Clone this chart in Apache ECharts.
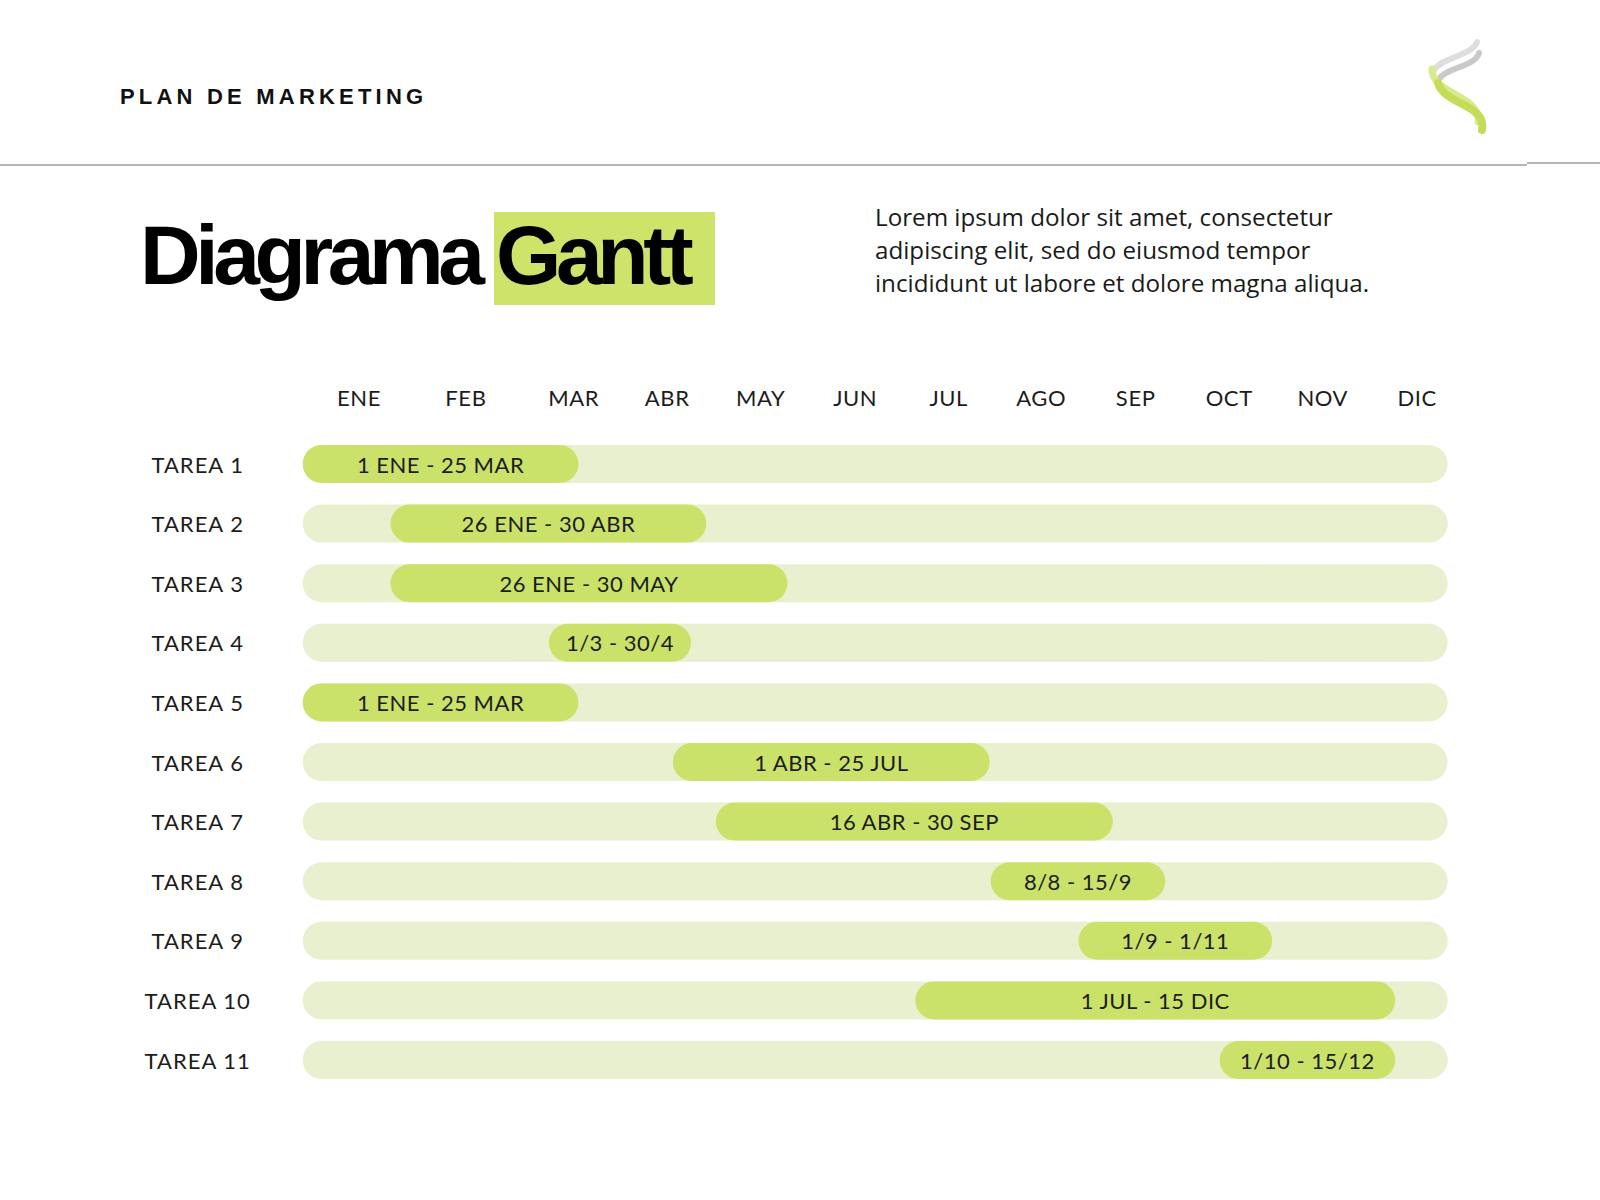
<!DOCTYPE html>
<html>
<head>
<meta charset="utf-8">
<style>
html,body{margin:0;padding:0;background:#fff;}
#chart{width:1600px;height:1200px;}
</style>
<script src="https://cdn.jsdelivr.net/npm/echarts@6/dist/echarts.min.js"></script>
</head>
<body>
<div id="chart"></div>
<script>
// ---- data ----
var tasks = ['TAREA 1','TAREA 2','TAREA 3','TAREA 4','TAREA 5','TAREA 6','TAREA 7','TAREA 8','TAREA 9','TAREA 10','TAREA 11'];
// positions in months from start of year (0 = 1 ENE, 12 = end DIC)
var starts = [0, 0.92, 0.92, 2.58, 0, 3.88, 4.33, 7.21, 8.13, 6.42, 9.61];
var ends   = [2.89, 4.23, 5.08, 4.07, 2.89, 7.20, 8.49, 9.04, 10.16, 11.45, 11.45];
var barLabels = ['1 ENE - 25 MAR','26 ENE - 30 ABR','26 ENE - 30 MAY','1/3 - 30/4','1 ENE - 25 MAR','1 ABR - 25 JUL','16 ABR - 30 SEP','8/8 - 15/9','1/9 - 1/11','1 JUL - 15 DIC','1/10 - 15/12'];
var months = ['ENE','FEB','MAR','ABR','MAY','JUN','JUL','AGO','SEP','OCT','NOV','DIC'];
var monthLabelPos = [0.59, 1.71, 2.84, 3.82, 4.80, 5.79, 6.77, 7.74, 8.73, 9.71, 10.69, 11.68];

var durations = ends.map(function(e, i){ return +(e - starts[i]).toFixed(3); });

var GREEN = '#cae26a';
var TRACK = '#e8f0cf';
var TXT = '#1c1c1c';
var LFONT = 'Lato, "Noto Sans", sans-serif';

var chart = echarts.init(document.getElementById('chart'), null, {renderer: 'svg', width: 1600, height: 1200});

function monthName(v){
  for (var k = 0; k < monthLabelPos.length; k++) { if (Math.abs(monthLabelPos[k] - v) < 1e-6) return months[k]; }
  return '';
}

var option = {
  animation: false,
  backgroundColor: '#ffffff',
  grid: {left: 302.7, right: 152.3, top: 434.2, height: 655.6, containLabel: false},
  xAxis: {
    type: 'value', position: 'top', min: 0, max: 12,
    axisLine: {show: false}, axisTick: {show: false}, splitLine: {show: false},
    axisLabel: {
      show: true, customValues: monthLabelPos, margin: 26,
      fontFamily: LFONT, fontSize: 22, color: TXT,
      formatter: monthName
    }
  },
  yAxis: {
    type: 'category', data: tasks, inverse: true,
    axisLine: {show: false}, axisTick: {show: false}, splitLine: {show: false},
    axisLabel: {align: 'center', margin: 105, fontFamily: LFONT, fontSize: 22, color: TXT}
  },
  series: [
    {
      type: 'bar', stack: 'g', data: starts, barWidth: 38, silent: true,
      itemStyle: {color: 'rgba(0,0,0,0)'},
      showBackground: true,
      backgroundStyle: {color: TRACK, borderRadius: 19}
    },
    {
      type: 'bar', stack: 'g', data: durations, barWidth: 38, silent: true,
      itemStyle: {color: GREEN, borderRadius: 19},
      label: {
        show: true, position: 'inside', fontFamily: LFONT, fontSize: 22, color: TXT,
        formatter: function(p){ return barLabels[p.dataIndex]; }
      }
    }
  ],
  graphic: [
    {type: 'text', x: 120, y: 96,
     style: {text: 'PLAN DE MARKETING', x: 0, y: 0, font: 'bold 22px "Liberation Sans", Arial, sans-serif', fill: '#111', textVerticalAlign: 'middle', textAlign: 'left'}},
    {type: 'line', shape: {x1: 0, y1: 165, x2: 1527, y2: 165}, style: {stroke: '#b5b5b5', lineWidth: 2}},
    {type: 'line', shape: {x1: 1527, y1: 163, x2: 1600, y2: 163}, style: {stroke: '#b5b5b5', lineWidth: 2}},
    {type: 'rect', shape: {x: 494, y: 212, width: 221, height: 93}, style: {fill: '#cde36a'}},
    {type: 'text', x: 140, y: 255,
     style: {text: 'Diagrama', x: 0, y: 0, font: 'bold 84px "Liberation Sans", Arial, sans-serif', fill: '#000', textVerticalAlign: 'middle', textAlign: 'left'}},
    {type: 'text', x: 496, y: 255,
     style: {text: 'Gantt', x: 0, y: 0, font: 'bold 84px "Liberation Sans", Arial, sans-serif', fill: '#000', textVerticalAlign: 'middle', textAlign: 'left'}},
    {type: 'text', x: 875, y: 199.5,
     style: {text: 'Lorem ipsum dolor sit amet, consectetur\nadipiscing elit, sed do eiusmod tempor\nincididunt ut labore et dolore magna aliqua.', x: 0, y: 0,
             font: '24.2px "Open Sans", sans-serif', lineHeight: 33, fill: '#1a1a1a', textVerticalAlign: 'top', textAlign: 'left'}},
    // logo (decorative swoosh)
    {type: 'bezierCurve', shape: {x1: 1477, y1: 42, cpx1: 1472, cpy1: 56, cpx2: 1442, cpy2: 57, x2: 1434, y2: 70}, style: {stroke: '#dedede', lineWidth: 6, lineCap: 'round', fill: null}},
    {type: 'bezierCurve', shape: {x1: 1479, y1: 53, cpx1: 1475, cpy1: 67, cpx2: 1447, cpy2: 67, x2: 1439, y2: 79}, style: {stroke: '#c9c9c9', lineWidth: 6, lineCap: 'round', fill: null}},
    {type: 'bezierCurve', shape: {x1: 1432, y1: 69, cpx1: 1431, cpy1: 94, cpx2: 1482, cpy2: 95, x2: 1478, y2: 122}, style: {stroke: '#d6ea8f', lineWidth: 7, lineCap: 'round', fill: null}},
    {type: 'bezierCurve', shape: {x1: 1438, y1: 83, cpx1: 1444, cpy1: 105, cpx2: 1487, cpy2: 104, x2: 1482, y2: 130}, style: {stroke: '#c4dd58', lineWidth: 8, lineCap: 'round', fill: null}}
  ]
};
chart.setOption(option);

function applySpacing(){
  var texts = document.querySelectorAll('#chart text');
  texts.forEach(function(t){
    var s = t.textContent;
    if (s === 'PLAN DE MARKETING') t.style.letterSpacing = '4.2px';
    else if (s === 'Diagrama' || s === 'Gantt') t.style.letterSpacing = '-5.4px';
    else if (tasks.indexOf(s) >= 0) t.style.letterSpacing = '1px';
    else if (barLabels.indexOf(s) >= 0) t.style.letterSpacing = '0.5px';
    else if (months.indexOf(s) >= 0) t.style.letterSpacing = '0.6px';
  });
}
applySpacing();
chart.on('finished', applySpacing);
chart.on('rendered', applySpacing);
setTimeout(applySpacing, 30);
setTimeout(applySpacing, 300);
</script>
</body>
</html>
